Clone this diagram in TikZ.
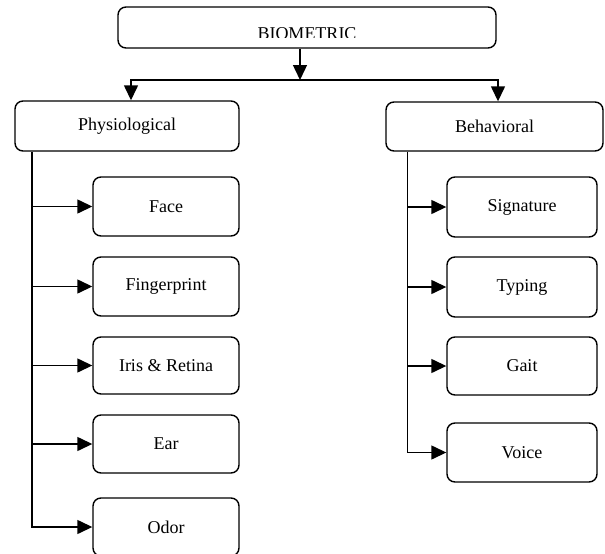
\documentclass[tikz,border=0pt]{standalone}
\usepackage{fontspec}
\setmainfont{Liberation Serif}
\usetikzlibrary{arrows.meta}
\tikzset{
  box/.style={draw=black, line width=1.4pt, rounded corners=8pt, fill=white,
    font=\fontsize{18}{21}\selectfont, inner sep=0pt},
  conn/.style={draw=black, line width=1.4pt},
  arr/.style={conn, -{Triangle[length=15pt,width=14pt]}}
}
\begin{document}
\begin{tikzpicture}[x=1pt,y=-1pt]
\useasboundingbox (0,0) rectangle (605,554);
% top box
\node[box, minimum width=378pt, minimum height=41pt] (bio) at (307,27.5) {};
\begin{scope}
  \clip (118,0) rectangle (496,37.2);
  \node[anchor=base, font=\fontsize{18}{21}\selectfont, inner sep=0pt] (biotext) at (307,39.5) {BIOMETRIC};
\end{scope}
% second level
\node[box, minimum width=224pt, minimum height=50pt] (phys) at (127,126) {Physiological};
\node[box, minimum width=217pt, minimum height=49pt] (beh) at (494.5,126.5) {Behavioral};
% left children
\node[box, minimum width=146pt, minimum height=59pt] (face) at (166,206.5) {Face};
\node[box, minimum width=146pt, minimum height=59pt] (finger) at (166,286.5) {Fingerprint};
\node[box, minimum width=146pt, minimum height=57pt] (iris) at (166,365.5) {Iris \& Retina};
\node[box, minimum width=146pt, minimum height=58pt] (ear) at (166,444) {Ear};
\node[box, minimum width=146pt, minimum height=58pt] (odor) at (166,527) {Odor};
% right children
\node[box, minimum width=150pt, minimum height=60pt] (sig) at (522,207) {Signature};
\node[box, minimum width=150pt, minimum height=60pt] (typ) at (522,287) {Typing};
\node[box, minimum width=150pt, minimum height=58pt] (gait) at (522,366) {Gait};
\node[box, minimum width=150pt, minimum height=59pt] (voice) at (522,452.5) {Voice};
% junction coordinates
\coordinate (jc) at (300,80);
\coordinate (jl) at (131,80);
\coordinate (jr) at (498,80);
\coordinate (tl) at (32,0);
\coordinate (tr) at (407.5,0);
% top connectors
\draw[arr] (bio.south -| jc) -- (jc);
\draw[arr] (jc) -| (phys.north -| jl);
\draw[arr] (jc) -| (beh.north -| jr);
% left trunk
\draw[arr] (phys.south -| tl) |- (odor.west);
\draw[arr] (face.west -| tl) -- (face.west);
\draw[arr] (finger.west -| tl) -- (finger.west);
\draw[arr] (iris.west -| tl) -- (iris.west);
\draw[arr] (ear.west -| tl) -- (ear.west);
% right trunk
\draw[arr] (beh.south -| tr) |- (voice.west);
\draw[arr] (sig.west -| tr) -- (sig.west);
\draw[arr] (typ.west -| tr) -- (typ.west);
\draw[arr] (gait.west -| tr) -- (gait.west);
\end{tikzpicture}
\end{document}
